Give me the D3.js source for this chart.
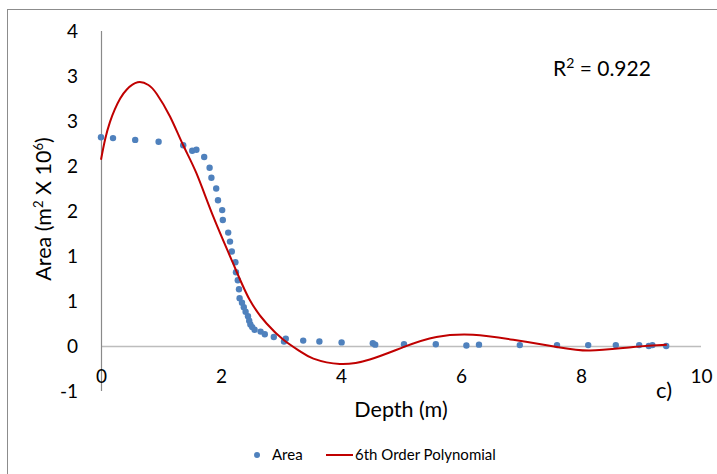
<!DOCTYPE html>
<html>
<head>
<meta charset="utf-8">
<script src="https://cdn.jsdelivr.net/npm/d3@7"></script>
<style>
  body { margin: 0; background: #fff; }
  svg { display: block; font-family: Lato, "Open Sans", sans-serif; }
</style>
</head>
<body>
<div id="chart"></div>
<script>
// measured points (depth in m, area in m2 x 10^6)
const depth = [0, 0.2, 0.57, 0.96, 1.37, 1.52, 1.59, 1.72, 1.81, 1.84, 1.92, 1.95, 2.02, 2.03,
  2.12, 2.15, 2.18, 2.24, 2.25, 2.28, 2.30, 2.31, 2.35, 2.38, 2.41, 2.45, 2.47, 2.49, 2.52,
  2.56, 2.66, 2.73, 2.88, 3.05, 3.08, 3.37, 3.64, 4.01, 4.53, 4.57, 5.05, 5.58, 6.09, 6.30,
  6.98, 7.60, 8.12, 8.58, 8.97, 9.13, 9.19, 9.42]
const area = [2.32, 2.31, 2.29, 2.27, 2.23, 2.17, 2.18, 2.10, 1.98, 1.87, 1.75, 1.62, 1.51, 1.40,
  1.26, 1.16, 1.05, 0.93, 0.82, 0.73, 0.63, 0.53, 0.48, 0.43, 0.38, 0.33, 0.28, 0.24, 0.21,
  0.18, 0.16, 0.13, 0.10, 0.05, 0.08, 0.06, 0.05, 0.04, 0.03, 0.015, 0.02, 0.02, 0.005, 0.015,
  0.01, 0.01, 0.01, 0.01, 0.01, 0.0, 0.01, 0.0]

// trendline
const fitDepth = [0, 0.07, 0.15, 0.23, 0.32, 0.43, 0.61, 0.79, 0.93, 1.15, 1.37, 1.59, 1.87, 2.2,
  2.48, 2.76, 3.04, 3.32, 3.54, 3.98, 4.48, 5.05, 5.59, 6.2, 6.87, 7.6, 8.15, 8.87, 9.43]
const fitArea = [2.07, 2.3, 2.49, 2.63, 2.75, 2.85, 2.93, 2.9, 2.8, 2.55, 2.23, 1.92, 1.44, 0.92,
  0.51, 0.25, 0.07, -0.06, -0.14, -0.2, -0.15, -0.01, 0.1, 0.125, 0.07, -0.01, -0.05, -0.01, 0.015]

const xTicks = [0, 2, 4, 6, 8, 10]
const yTicks = [3.5, 3, 2.5, 2, 1.5, 1, 0.5, 0, -0.5]
const yTickLabels = ['4', '3', '3', '2', '2', '1', '1', '0', '-1']
const rSquared = '0.922'

const width = 717
const height = 474

const x = d3.scaleLinear().domain([0, 10]).range([101, 701])
const y = d3.scaleLinear().domain([-0.5, 3.5]).range([391, 31])

const svg = d3.select('#chart').append('svg')
  .attr('width', width)
  .attr('height', height)

// chart border
svg.append('rect')
  .attr('x', 7.5).attr('y', 9.5)
  .attr('width', width + 20).attr('height', height + 20)
  .attr('fill', 'none')
  .attr('stroke', '#8c8c8c')

// horizontal axis line at zero
svg.append('line')
  .attr('x1', x(0)).attr('x2', x(10))
  .attr('y1', y(0) + 0.5).attr('y2', y(0) + 0.5)
  .attr('stroke', '#bdbdbd')
  .attr('stroke-width', 1.5)

// vertical axis line
svg.append('line')
  .attr('x1', x(0) + 0.5).attr('x2', x(0) + 0.5)
  .attr('y1', y(3.5)).attr('y2', y(-0.5))
  .attr('stroke', '#8a8a8a')
  .attr('stroke-width', 1.2)

// x tick labels (sit low, between 0 and -0.5)
const xAxis = svg.append('g')
  .attr('transform', `translate(0, ${y(0)})`)
  .call(d3.axisBottom(x).tickValues(xTicks).tickSize(0).tickPadding(24).tickFormat(d3.format('d')))
xAxis.select('.domain').remove()
xAxis.selectAll('text')
  .attr('font-size', 19).attr('font-family', 'Lato, sans-serif').attr('fill', '#000')

// y tick labels
const yAxis = svg.append('g')
  .attr('transform', `translate(${x(0)}, 0)`)
  .call(d3.axisLeft(y).tickValues(yTicks).tickSize(0).tickPadding(23)
    .tickFormat((d, i) => yTickLabels[i]))
yAxis.select('.domain').remove()
yAxis.selectAll('text')
  .attr('font-size', 19).attr('font-family', 'Lato, sans-serif').attr('fill', '#000')

// axis titles
svg.append('text')
  .attr('x', 401).attr('y', 417)
  .attr('text-anchor', 'middle')
  .attr('font-size', 21.5)
  .text('Depth (m)')

const yTitle = svg.append('text')
  .attr('transform', 'translate(51, 209) rotate(-90)')
  .attr('text-anchor', 'middle')
  .attr('font-size', 21.5)
yTitle.append('tspan').text('Area (m')
yTitle.append('tspan').attr('font-size', 13).attr('dy', -8).text('2')
yTitle.append('tspan').attr('dy', 8).text(' X 10')
yTitle.append('tspan').attr('font-size', 13).attr('dy', -8).text('6')
yTitle.append('tspan').attr('dy', 8).text(')')

// panel letter
svg.append('text')
  .attr('x', 656).attr('y', 398)
  .attr('font-size', 22)
  .text('c)')

// R squared
const r2 = svg.append('text')
  .attr('x', 553).attr('y', 76)
  .attr('font-size', 21)
r2.append('tspan').text('R')
r2.append('tspan').attr('font-size', 14).attr('dy', -8).text('2')
r2.append('tspan').attr('dy', 8).text(` = ${rSquared}`)

// points
svg.append('g')
  .selectAll('circle')
  .data(depth.map((d, i) => ({x: d, y: area[i]})))
  .join('circle')
  .attr('cx', d => x(d.x))
  .attr('cy', d => y(d.y))
  .attr('r', 3.2)
  .attr('fill', '#4f81bd')

// 6th order polynomial trendline
const line = d3.line()
  .x(d => x(d.x))
  .y(d => y(d.y))
  .curve(d3.curveNatural)

svg.append('path')
  .datum(fitDepth.map((d, i) => ({x: d, y: fitArea[i]})))
  .attr('d', line)
  .attr('fill', 'none')
  .attr('stroke', '#c00000')
  .attr('stroke-width', 2)

// legend
const legend = svg.append('g').attr('font-size', 15)
legend.append('circle')
  .attr('cx', 257).attr('cy', 455).attr('r', 3)
  .attr('fill', '#4f81bd')
legend.append('text')
  .attr('x', 272).attr('y', 460)
  .text('Area')
legend.append('line')
  .attr('x1', 326).attr('x2', 353)
  .attr('y1', 455).attr('y2', 455)
  .attr('stroke', '#c00000').attr('stroke-width', 2)
legend.append('text')
  .attr('x', 355).attr('y', 460)
  .text('6th Order Polynomial')
</script>
</body>
</html>
